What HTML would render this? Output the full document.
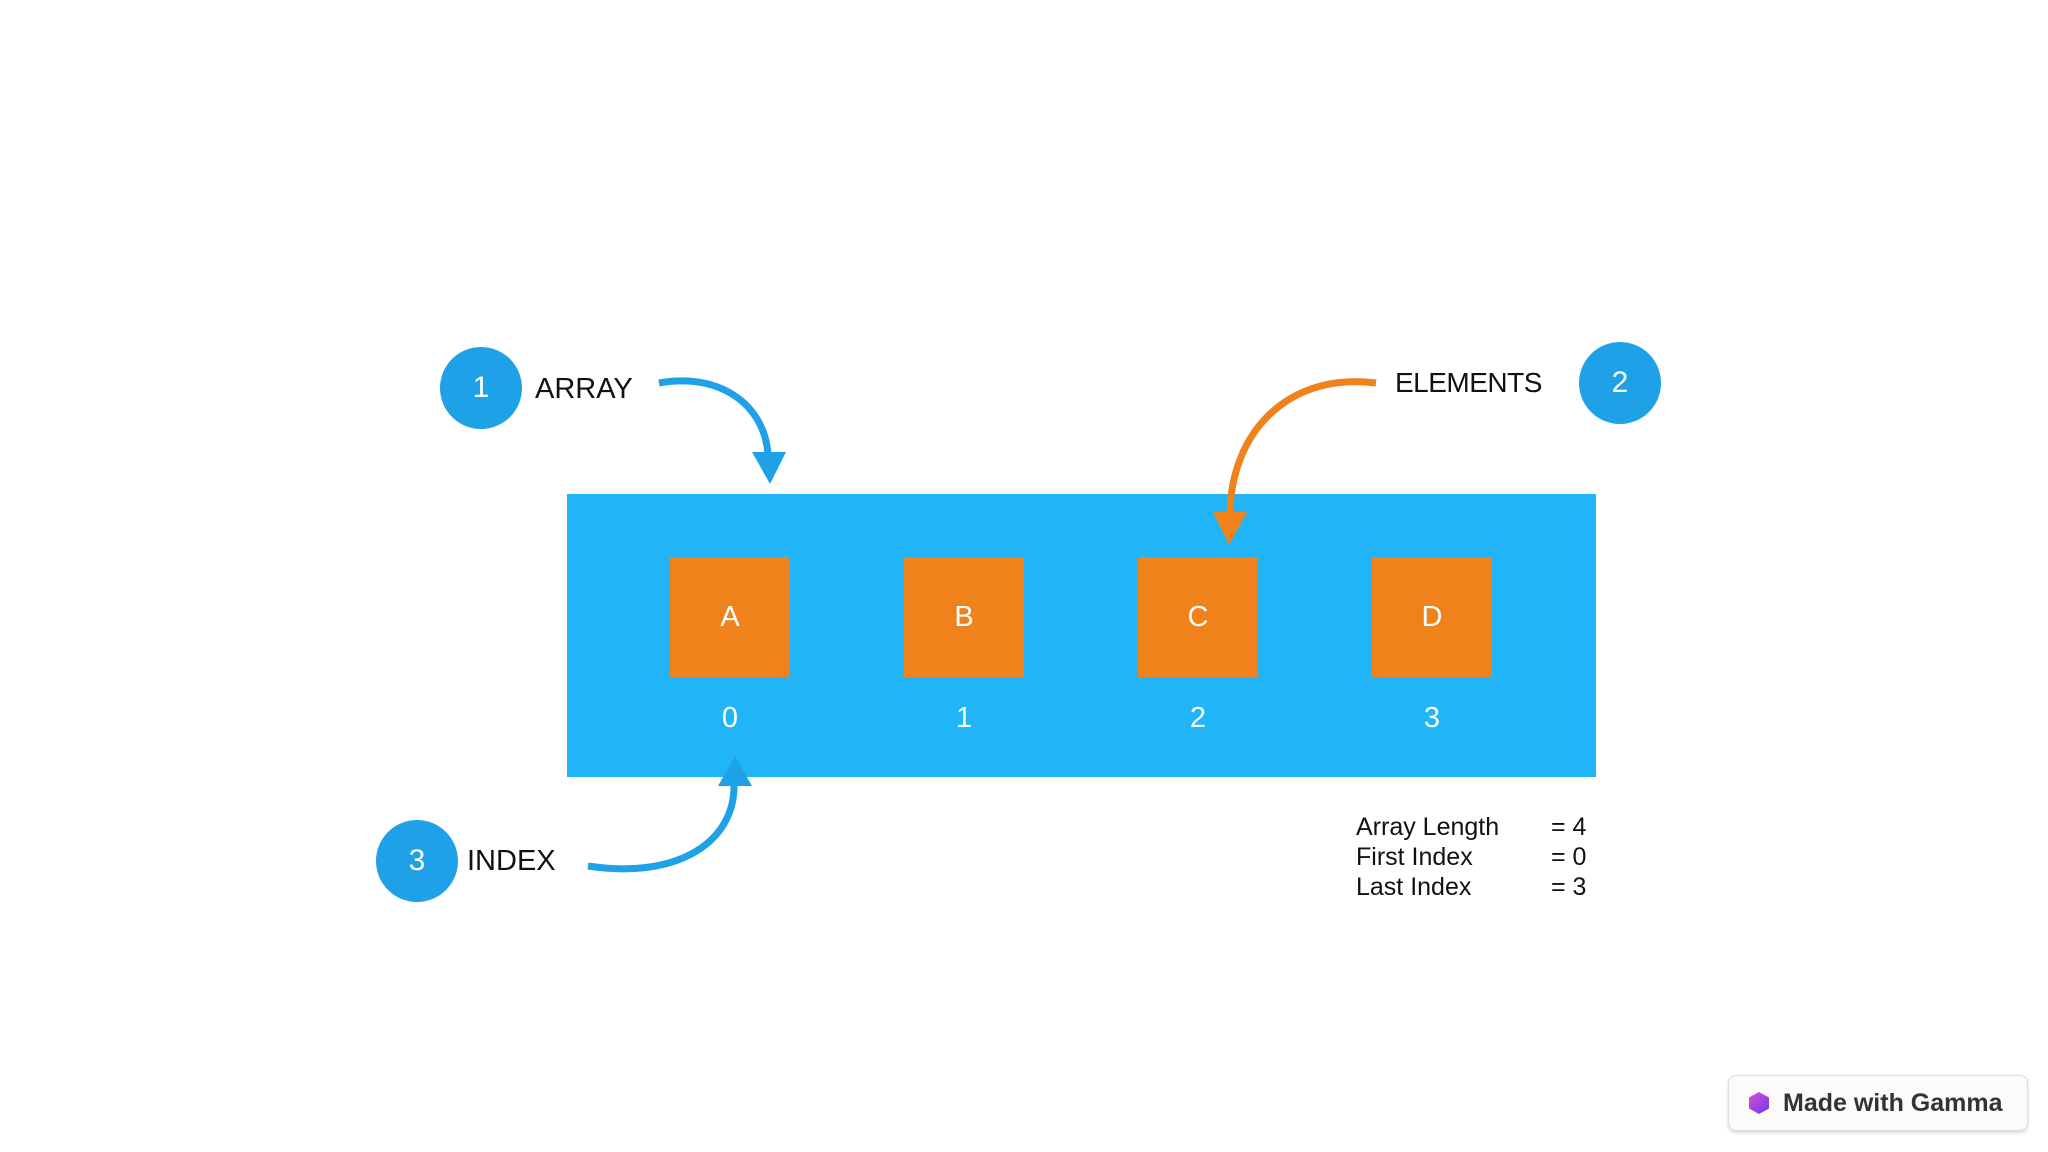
<!DOCTYPE html>
<html><head><meta charset="utf-8"><style>
html,body{margin:0;padding:0;background:#fff}
body{width:2048px;height:1152px;position:relative;overflow:hidden;font-family:"Liberation Sans",sans-serif}
.abs{position:absolute}
.circ{position:absolute;width:82px;height:82px;border-radius:50%;background:#1ea1e6;color:#fff;font-size:30px;display:flex;align-items:center;justify-content:center}
.lbl{position:absolute;font-size:29px;color:#111;line-height:1}
.sq{position:absolute;top:557px;width:120px;height:120px;background:#f0821c;color:#fff;font-size:29px;display:flex;align-items:center;justify-content:center}
.idx{position:absolute;top:702px;width:120px;text-align:center;color:#fff;font-size:29px}
.st{position:absolute;font-size:25px;color:#111;line-height:30px}
</style></head><body>
<div class="abs" style="left:567px;top:494px;width:1029px;height:283px;background:#21b4f7"></div>
<div class="sq" style="left:670px">A</div>
<div class="sq" style="left:904px">B</div>
<div class="sq" style="left:1138px">C</div>
<div class="sq" style="left:1372px">D</div>
<div class="idx" style="left:670px">0</div>
<div class="idx" style="left:904px">1</div>
<div class="idx" style="left:1138px">2</div>
<div class="idx" style="left:1372px">3</div>

<div class="circ" style="left:440px;top:347px">1</div>
<div class="lbl" style="left:535px;top:375px">ARRAY</div>
<div class="circ" style="left:1579px;top:342px">2</div>
<div class="lbl" style="left:1395px;top:369px;font-size:28px;letter-spacing:-0.5px">ELEMENTS</div>
<div class="circ" style="left:376px;top:820px">3</div>
<div class="lbl" style="left:467px;top:847px">INDEX</div>

<svg class="abs" style="left:0;top:0" width="2048" height="1152">
<path d="M659 383 C720 372 765 405 768 455" fill="none" stroke="#1ea1e6" stroke-width="7"/>
<polygon points="752,452 786,452 770,484" fill="#1ea1e6"/>
<path d="M1376 383 C1290 372 1232 430 1230 512" fill="none" stroke="#f0821c" stroke-width="7"/>
<polygon points="1213,512 1247,512 1229,545" fill="#f0821c"/>
<path d="M588 866 C680 880 735 840 734 785" fill="none" stroke="#1ea1e6" stroke-width="7"/>
<polygon points="718,786 752,786 735,756" fill="#1ea1e6"/>
</svg>

<div class="st" style="left:1356px;top:812px">Array Length<br>First Index<br>Last Index</div>
<div class="st" style="left:1551px;top:812px">= 4<br>= 0<br>= 3</div>

<div class="abs" style="left:1728px;top:1075px;width:298px;height:54px;border:1px solid #ddd;border-radius:8px;background:#fdfbfa;box-shadow:0 2px 3px rgba(0,0,0,0.15);display:flex;align-items:center">
<div style="margin-left:20px;width:20px;height:22px;background:linear-gradient(135deg,#e04bd8,#6a3de8);clip-path:polygon(50% 0,100% 25%,100% 75%,50% 100%,0 75%,0 25%)"></div>
<span style="margin-left:14px;font-size:25px;font-weight:bold;color:#333">Made with Gamma</span>
</div>
</body></html>
